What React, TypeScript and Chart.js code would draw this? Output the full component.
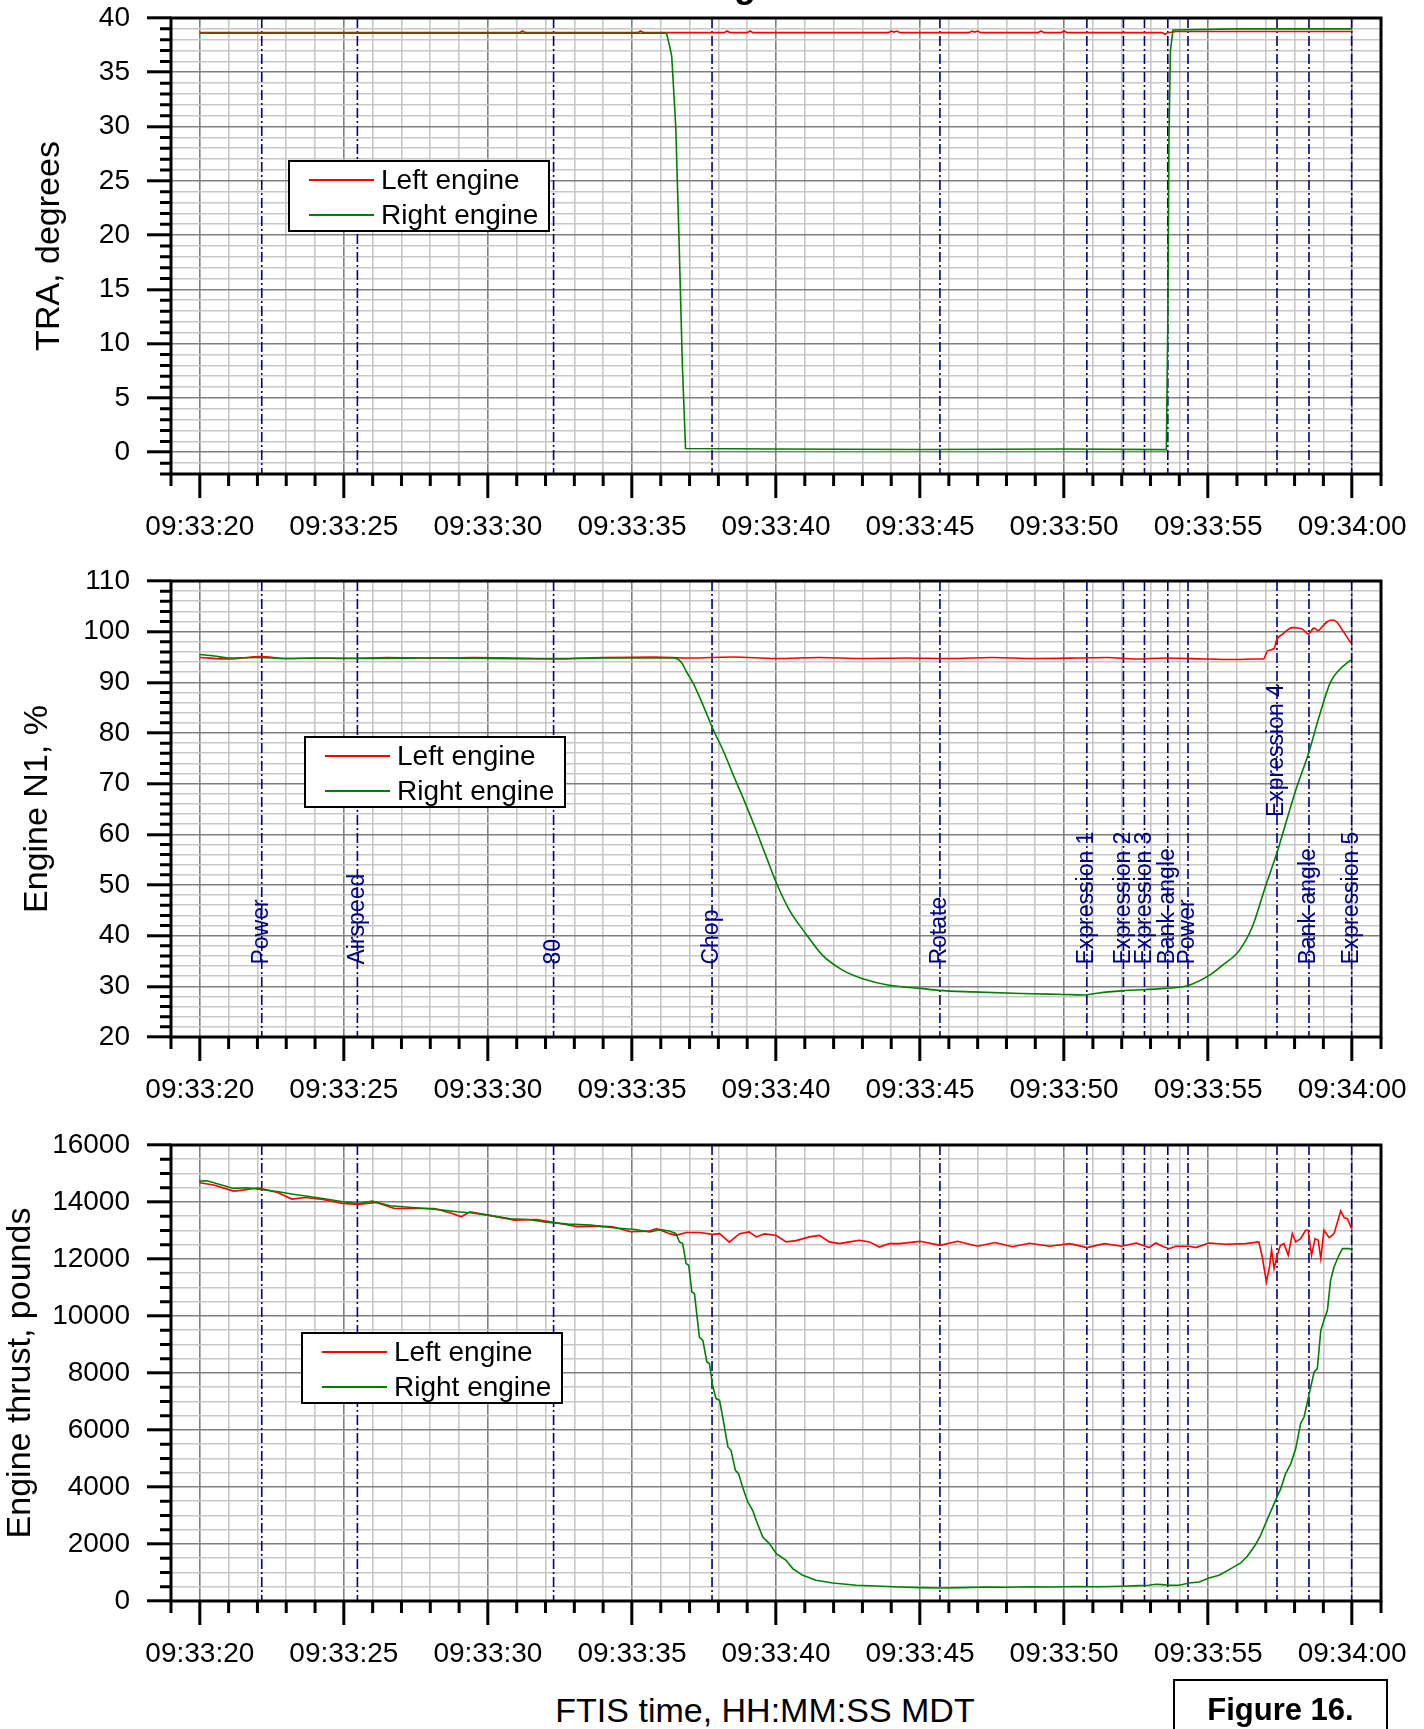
import React, { useEffect, useRef } from 'react';
import { Chart, registerables } from 'chart.js';

Chart.register(...registerables);

const FONT = "'Liberation Sans', Arial, Helvetica, sans-serif";
const RED = '#ff0000';
const GREEN = '#008000';
const NAVY = '#000080';
const GRID_MAJOR = '#808080';
const GRID_MINOR = '#c8c8c8';

// ---------- axis ticks ----------
const xTickValues = [20, 25, 30, 35, 40, 45, 50, 55, 60]; // seconds after 09:33:00
const xTickLabels = ['09:33:20', '09:33:25', '09:33:30', '09:33:35', '09:33:40', '09:33:45', '09:33:50', '09:33:55', '09:34:00'];
const traTicks = [0, 5, 10, 15, 20, 25, 30, 35, 40];
const n1Ticks = [20, 30, 40, 50, 60, 70, 80, 90, 100, 110];
const thrustTicks = [0, 2000, 4000, 6000, 8000, 10000, 12000, 14000, 16000];

// ---------- events ----------
const eventNames = ['Power', 'Airspeed', '80', 'Chop', 'Rotate', 'Expression 1', 'Expression 2', 'Expression 3', 'Bank-angle', 'Power', 'Expression 4', 'Bank-angle', 'Expression 5'];
const eventTimes = [22.15, 25.47, 32.28, 37.78, 45.69, 50.79, 52.06, 52.79, 53.6, 54.3, 57.39, 58.5, 59.98];
const eventLabelN1 = [34.3, 34.3, 34.3, 34.3, 34.3, 34.3, 34.3, 34.3, 34.3, 34.3, 63.4, 34.3, 34.3];

// ---------- TRA, degrees ----------
const traLeftT = [20, 31.1, 31.2, 31.3, 35.2, 35.3, 35.4, 38.2, 38.3, 38.4, 39.0, 39.1, 39.2, 43.9, 44.0, 44.1, 44.2, 44.3, 46.7, 46.8, 46.9, 47.0, 47.1, 49.1, 49.2, 49.3, 49.9, 50.0, 50.1, 53.4, 53.5, 53.6, 53.9, 60];
const traLeft = [38.65, 38.65, 38.8, 38.65, 38.65, 38.8, 38.65, 38.65, 38.8, 38.65, 38.65, 38.8, 38.65, 38.65, 38.8, 38.7, 38.8, 38.65, 38.65, 38.8, 38.7, 38.8, 38.65, 38.65, 38.8, 38.65, 38.65, 38.8, 38.65, 38.65, 38.5, 38.65, 38.75, 38.75];
const traRightT = [20, 36.2, 36.3, 36.38, 36.52, 36.63, 36.75, 36.86, 40, 45, 50, 53.55, 53.6, 53.64, 53.69, 53.78, 56, 60];
const traRight = [38.6, 38.6, 37.5, 36.5, 30, 20, 8, 0.35, 0.3, 0.25, 0.3, 0.25, 12, 29, 37, 38.9, 39.0, 39.0];

// ---------- Engine N1, % ----------
const n1LeftT = [20, 21, 22.1, 23, 24, 25, 26.5, 28, 29.5, 31, 32.3, 34, 35.8, 37, 38.5, 40, 41.5, 43, 44.5, 46, 47.5, 49, 50.5, 51.5, 52.5, 53.5, 55, 56, 56.6, 56.92, 57.06, 57.29, 57.38, 57.58, 57.92, 58.27, 58.48, 58.67, 58.82, 58.96, 59.14, 59.31, 59.45, 59.66, 59.95];
const n1Left = [94.9, 94.6, 95.1, 94.7, 94.8, 94.7, 94.9, 94.8, 94.9, 94.8, 94.7, 94.9, 95.0, 94.8, 95.0, 94.7, 94.9, 94.7, 94.8, 94.7, 94.9, 94.7, 94.8, 94.9, 94.6, 94.8, 94.6, 94.5, 94.6, 94.6, 96.2, 96.7, 98.4, 99.5, 100.8, 100.5, 99.5, 100.7, 100.2, 101.0, 102.0, 102.3, 102.0, 100.3, 97.8];
const n1RightT = [20, 20.5, 21, 22, 23, 24.5, 26, 28, 30, 32.3, 34, 35.5, 36.4, 36.58, 36.73, 36.9, 37.12, 37.43, 37.82, 38.2, 38.51, 38.9, 39.29, 39.68, 40.0, 40.46, 40.98, 41.62, 42.31, 43.01, 43.93, 45.0, 45.66, 46.82, 48.5, 50.0, 50.74, 51.21, 52.0, 53.52, 54.28, 55.02, 55.48, 56.07, 56.53, 57.0, 57.38, 57.69, 58.04, 58.48, 58.85, 59.25, 59.54, 59.95];
const n1Right = [95.5, 95.2, 94.8, 94.9, 94.7, 94.8, 94.7, 94.8, 94.7, 94.6, 94.8, 94.8, 94.8, 94.6, 93.8, 92.0, 89.9, 86.0, 80.7, 76.1, 71.8, 66.6, 61.1, 55.3, 50.6, 45.1, 40.8, 36.1, 33.2, 31.5, 30.2, 29.6, 29.2, 28.9, 28.6, 28.4, 28.3, 28.7, 29.1, 29.6, 30.1, 32.1, 34.1, 37.0, 41.7, 49.9, 56.2, 62.1, 68.7, 75.9, 83.2, 90.1, 92.4, 94.4];

// ---------- Engine thrust, pounds ----------
const thrustLeftT = [20.0, 20.48, 21.17, 21.49, 22.03, 22.72, 23.19, 23.65, 24.27, 24.96, 25.51, 26.13, 26.75, 27.37, 28.14, 28.76, 29.07, 29.38, 30.0, 30.93, 31.7, 32.32, 33.1, 33.87, 34.33, 34.95, 35.57, 35.86, 36.3, 36.53, 36.88, 37.34, 37.81, 38.04, 38.38, 38.73, 39.07, 39.31, 39.6, 40.01, 40.35, 40.7, 41.16, 41.51, 41.85, 42.2, 42.55, 42.89, 43.24, 43.59, 43.93, 44.28, 45.0, 45.7, 46.3, 47.0, 47.6, 48.2, 48.8, 49.5, 50.2, 50.8, 51.4, 52.0, 52.5, 52.95, 53.18, 53.41, 53.64, 53.88, 54.34, 54.57, 55.03, 55.61, 56.3, 56.76, 56.88, 57.02, 57.13, 57.2, 57.29, 57.4, 57.51, 57.63, 57.78, 57.92, 58.04, 58.21, 58.38, 58.47, 58.59, 58.71, 58.82, 58.91, 59.02, 59.2, 59.37, 59.6, 59.72, 59.83, 59.98];
const thrustLeft = [14676, 14594, 14383, 14418, 14500, 14324, 14102, 14160, 14090, 13950, 13915, 13985, 13774, 13774, 13774, 13598, 13481, 13657, 13540, 13364, 13388, 13282, 13130, 13153, 13130, 12954, 12977, 13070, 12890, 12830, 12930, 12930, 12865, 12890, 12590, 12890, 12950, 12775, 12880, 12825, 12600, 12645, 12776, 12830, 12600, 12540, 12600, 12660, 12600, 12420, 12540, 12540, 12620, 12480, 12620, 12450, 12580, 12430, 12550, 12450, 12540, 12400, 12540, 12450, 12560, 12400, 12562, 12445, 12363, 12445, 12445, 12400, 12562, 12515, 12540, 12600, 12070, 11193, 11719, 12328, 11661, 12129, 12480, 12540, 12129, 12890, 12600, 12715, 13007, 13007, 12129, 12715, 12655, 12013, 13007, 12750, 12890, 13684, 13450, 13415, 13065];
const thrustRightT = [19.97, 20.25, 21.17, 21.64, 22.11, 22.73, 23.19, 24.27, 24.97, 25.51, 25.98, 26.6, 27.37, 28.15, 28.92, 29.38, 30.0, 30.78, 31.4, 32.02, 32.79, 33.57, 34.34, 35.11, 35.61, 35.96, 36.3, 36.53, 36.65, 36.76, 36.88, 36.97, 37.08, 37.17, 37.34, 37.46, 37.6, 37.69, 37.81, 37.92, 38.04, 38.15, 38.33, 38.44, 38.59, 38.7, 38.84, 39.02, 39.19, 39.31, 39.54, 39.77, 40.01, 40.35, 40.58, 40.93, 41.39, 41.97, 42.78, 43.7, 44.28, 45.0, 45.7, 46.5, 47.3, 48.0, 48.8, 49.6, 50.4, 51.2, 52.0, 52.6, 52.95, 53.18, 53.4, 53.64, 53.99, 54.34, 54.69, 55.03, 55.38, 55.79, 56.13, 56.36, 56.63, 56.82, 57.0, 57.29, 57.52, 57.69, 57.87, 58.04, 58.21, 58.33, 58.51, 58.68, 58.79, 58.91, 59.02, 59.14, 59.25, 59.37, 59.54, 59.66, 59.89, 60.0];
const thrustRight = [14735, 14746, 14477, 14500, 14442, 14360, 14278, 14125, 14008, 13950, 14031, 13868, 13809, 13750, 13657, 13622, 13540, 13411, 13388, 13294, 13223, 13188, 13094, 13036, 12947, 13031, 12982, 12890, 12596, 12540, 11838, 11782, 10842, 10786, 9263, 9147, 8386, 8330, 7509, 7102, 7044, 6456, 5404, 5287, 4586, 4470, 4000, 3474, 3182, 2832, 2246, 2014, 1663, 1428, 1137, 902, 726, 632, 551, 516, 491, 470, 456, 470, 490, 480, 500, 490, 510, 500, 520, 540, 551, 586, 575, 551, 551, 632, 667, 807, 902, 1137, 1334, 1568, 1954, 2305, 2737, 3417, 3944, 4470, 4821, 5347, 6225, 6456, 7277, 8035, 8152, 9498, 9849, 10200, 11252, 11720, 12130, 12363, 12363, 12305];

const seriesLabels = ['Left engine', 'Right engine'];

function pts(t: number[], v: number[]) {
  return t.map((x, i) => ({ x, y: v[i] }));
}

// ---------- plugins ----------
const eventLinesPlugin = {
  id: 'eventLines',
  beforeDatasetsDraw(chart: any, _a: any, opts: any) {
    const { ctx, chartArea: ca, scales } = chart;
    ctx.save();
    ctx.beginPath();
    ctx.rect(ca.left, ca.top, ca.right - ca.left, ca.bottom - ca.top);
    ctx.clip();
    ctx.strokeStyle = NAVY;
    ctx.lineWidth = 1.6;
    ctx.setLineDash([10, 3, 2, 3]);
    eventTimes.forEach((t) => {
      const x = scales.x.getPixelForValue(t);
      ctx.beginPath();
      ctx.moveTo(x, ca.top);
      ctx.lineTo(x, ca.bottom);
      ctx.stroke();
    });
    ctx.setLineDash([]);
    if (opts && opts.showLabels) {
      ctx.fillStyle = NAVY;
      ctx.font = `23px ${FONT}`;
      ctx.textAlign = 'left';
      ctx.textBaseline = 'middle';
      eventTimes.forEach((t, i) => {
        const x = scales.x.getPixelForValue(t);
        const y = scales.y.getPixelForValue(eventLabelN1[i]);
        ctx.save();
        ctx.translate(x, y);
        ctx.rotate(-Math.PI / 2);
        ctx.fillText(eventNames[i], 0, 0);
        ctx.restore();
      });
    }
    ctx.restore();
  },
};

const boxLegendPlugin = {
  id: 'boxLegend',
  afterDatasetsDraw(chart: any, _a: any, opts: any) {
    const { ctx, chartArea: ca } = chart;
    const x0 = ca.left + opts.x;
    const y0 = ca.top + opts.y;
    const w = 260;
    const h = 70;
    ctx.save();
    ctx.fillStyle = '#ffffff';
    ctx.fillRect(x0, y0, w, h);
    ctx.lineWidth = 2;
    ctx.strokeStyle = '#000';
    ctx.strokeRect(x0, y0, w, h);
    chart.data.datasets.forEach((ds: any, i: number) => {
      const y = y0 + 19 + i * 35;
      ctx.strokeStyle = ds.borderColor;
      ctx.lineWidth = 2;
      ctx.beginPath();
      ctx.moveTo(x0 + 20, y);
      ctx.lineTo(x0 + 85, y);
      ctx.stroke();
      ctx.fillStyle = '#000';
      ctx.font = `28px ${FONT}`;
      ctx.textAlign = 'left';
      ctx.textBaseline = 'middle';
      ctx.fillText(ds.label, x0 + 92, y + 1);
    });
    ctx.restore();
  },
};

const framePlugin = {
  id: 'frame',
  afterDraw(chart: any, _a: any, opts: any) {
    const { ctx, chartArea: ca, scales } = chart;
    ctx.save();
    ctx.strokeStyle = '#000';
    ctx.lineWidth = 3;
    ctx.beginPath();
    scales.x.ticks.forEach((t: any) => {
      if (Math.abs(t.value % opts.xMajor) > 1e-6) {
        const px = scales.x.getPixelForValue(t.value);
        ctx.moveTo(px, ca.bottom);
        ctx.lineTo(px, ca.bottom + 12);
      }
    });
    scales.y.ticks.forEach((t: any) => {
      if (Math.abs(t.value % opts.yMajor) > 1e-6) {
        const py = scales.y.getPixelForValue(t.value);
        ctx.moveTo(ca.left, py);
        ctx.lineTo(ca.left - 11, py);
      }
    });
    ctx.stroke();
    ctx.strokeRect(ca.left, ca.top, ca.right - ca.left, ca.bottom - ca.top);
    ctx.restore();
  },
};

interface PanelSpec {
  left: { t: number[]; v: number[] };
  right: { t: number[]; v: number[] };
  smooth: boolean;
  yMin: number;
  yMax: number;
  yStep: number;
  yMajor: number;
  yTicks: number[];
  yTitle: string;
  yTitlePad: number;
  legendX: number;
  legendY: number;
  showLabels: boolean;
}

function buildConfig(p: PanelSpec): any {
  const mk = (label: string, color: string, d: { t: number[]; v: number[] }, order: number) => ({
    label,
    data: pts(d.t, d.v),
    borderColor: color,
    backgroundColor: color,
    borderWidth: 1.6,
    pointRadius: 0,
    pointHoverRadius: 0,
    fill: false,
    tension: 0,
    cubicInterpolationMode: p.smooth ? 'monotone' : 'default',
    order,
  });
  const isMajorX = (v: number) => Math.abs(v % 5) < 1e-6;
  const isMajorY = (v: number) => Math.abs(v % p.yMajor) < 1e-6;
  return {
    type: 'line',
    data: {
      datasets: [mk(seriesLabels[0], RED, p.left, 1), mk(seriesLabels[1], GREEN, p.right, 0)],
    },
    plugins: [eventLinesPlugin, boxLegendPlugin, framePlugin],
    options: {
      responsive: false,
      animation: false,
      devicePixelRatio: 1,
      events: [],
      layout: { padding: { top: 18, right: 43, left: 0, bottom: 0 } },
      plugins: {
        legend: { display: false },
        tooltip: { enabled: false },
        title: { display: false },
        eventLines: { showLabels: p.showLabels },
        boxLegend: { x: p.legendX, y: p.legendY },
        frame: { xMajor: 5, yMajor: p.yMajor },
      },
      scales: {
        x: {
          type: 'linear',
          min: 19,
          max: 61,
          afterFit: (s: any) => {
            s.height = 86;
            s.paddingLeft = 0;
            s.paddingRight = 0;
          },
          border: { display: false },
          grid: {
            color: (c: any) => (c.tick && isMajorX(c.tick.value) ? GRID_MAJOR : GRID_MINOR),
            lineWidth: 1.6,
            drawTicks: true,
            tickLength: 24,
            tickWidth: 3,
            tickColor: (c: any) => (c.tick && isMajorX(c.tick.value) ? '#000' : 'rgba(0,0,0,0)'),
          },
          ticks: {
            stepSize: 1,
            autoSkip: false,
            maxRotation: 0,
            minRotation: 0,
            padding: 12,
            color: '#000',
            font: { size: 28, family: FONT },
            callback: (v: number) => {
              const i = xTickValues.indexOf(v);
              return i >= 0 ? xTickLabels[i] : '';
            },
          },
        },
        y: {
          type: 'linear',
          min: p.yMin,
          max: p.yMax,
          afterFit: (s: any) => {
            s.width = 171;
            s.paddingTop = 0;
            s.paddingBottom = 0;
          },
          border: { display: false },
          grid: {
            color: (c: any) => (c.tick && isMajorY(c.tick.value) ? GRID_MAJOR : GRID_MINOR),
            lineWidth: 1.6,
            drawTicks: true,
            tickLength: 24,
            tickWidth: 3,
            tickColor: (c: any) => (c.tick && isMajorY(c.tick.value) ? '#000' : 'rgba(0,0,0,0)'),
          },
          ticks: {
            stepSize: p.yStep,
            autoSkip: false,
            padding: 17,
            color: '#000',
            font: { size: 28, family: FONT },
            callback: (v: number) => (p.yTicks.indexOf(v) >= 0 ? String(v) : ''),
          },
          title: {
            display: true,
            text: p.yTitle,
            color: '#000',
            font: { size: 34, family: FONT },
            padding: { top: p.yTitlePad, bottom: 0 },
          },
        },
      },
    },
  };
}

const panels: { top: number; spec: PanelSpec }[] = [
  {
    top: 0,
    spec: {
      left: { t: traLeftT, v: traLeft },
      right: { t: traRightT, v: traRight },
      smooth: false,
      yMin: -2,
      yMax: 40,
      yStep: 1,
      yMajor: 5,
      yTicks: traTicks,
      yTitle: 'TRA, degrees',
      yTitlePad: 29,
      legendX: 118,
      legendY: 143,
      showLabels: false,
    },
  },
  {
    top: 563,
    spec: {
      left: { t: n1LeftT, v: n1Left },
      right: { t: n1RightT, v: n1Right },
      smooth: true,
      yMin: 20,
      yMax: 110,
      yStep: 2,
      yMajor: 10,
      yTicks: n1Ticks,
      yTitle: 'Engine N1, %',
      yTitlePad: 17,
      legendX: 134,
      legendY: 156,
      showLabels: true,
    },
  },
  {
    top: 1127,
    spec: {
      left: { t: thrustLeftT, v: thrustLeft },
      right: { t: thrustRightT, v: thrustRight },
      smooth: false,
      yMin: 0,
      yMax: 16000,
      yStep: 500,
      yMajor: 2000,
      yTicks: thrustTicks,
      yTitle: 'Engine thrust, pounds',
      yTitlePad: 0,
      legendX: 131,
      legendY: 188,
      showLabels: false,
    },
  },
];

function Panel({ top, spec }: { top: number; spec: PanelSpec }) {
  const ref = useRef<HTMLCanvasElement | null>(null);
  useEffect(() => {
    if (!ref.current) return;
    const chart = new Chart(ref.current, buildConfig(spec));
    return () => chart.destroy();
  }, []);
  return (
    <canvas
      ref={ref}
      width={1424}
      height={560}
      style={{ position: 'absolute', left: 0, top, width: 1424, height: 560, display: 'block' }}
    />
  );
}

export default function App() {
  return (
    <div
      style={{
        position: 'absolute',
        left: 0,
        top: 0,
        width: 1424,
        height: 1729,
        overflow: 'hidden',
        background: '#ffffff',
        fontFamily: FONT,
        color: '#000',
      }}
    >
      {panels.map((p, i) => (
        <Panel key={i} top={p.top} spec={p.spec} />
      ))}
      <div
        style={{
          position: 'absolute',
          left: 590,
          top: -37,
          width: 400,
          textAlign: 'center',
          fontSize: 36,
          lineHeight: '44px',
          fontWeight: 'bold',
          whiteSpace: 'nowrap',
        }}
      >
        Engine data
      </div>
      <div
        style={{
          position: 'absolute',
          left: 465,
          top: 1690,
          width: 600,
          textAlign: 'center',
          fontSize: 34,
          lineHeight: '40px',
          whiteSpace: 'nowrap',
        }}
      >
        FTIS time, HH:MM:SS MDT
      </div>
      <div
        style={{
          position: 'absolute',
          left: 1173,
          top: 1679,
          width: 215,
          height: 80,
          boxSizing: 'border-box',
          border: '2px solid #000',
        }}
      />
      <div
        style={{
          position: 'absolute',
          left: 1173,
          top: 1690,
          width: 215,
          textAlign: 'center',
          fontSize: 31,
          lineHeight: '40px',
          fontWeight: 'bold',
          whiteSpace: 'nowrap',
        }}
      >
        Figure 16.
      </div>
    </div>
  );
}
